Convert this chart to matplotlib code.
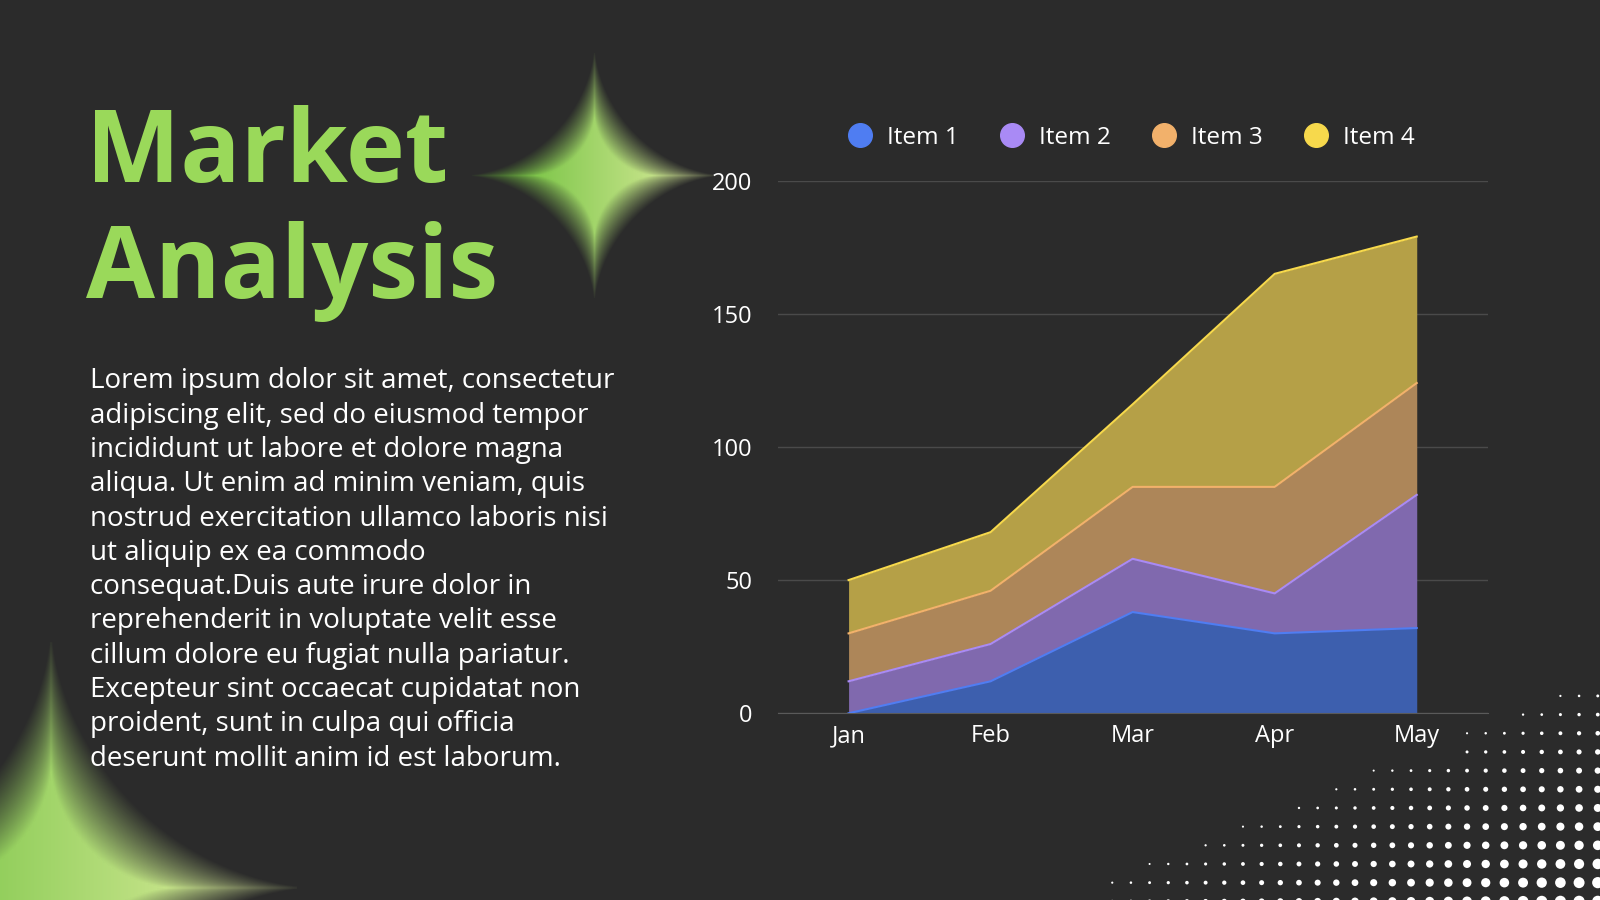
import numpy as np
import matplotlib.pyplot as plt
from matplotlib.colors import to_rgb

months = ['Jan', 'Feb', 'Mar', 'Apr', 'May']
item1 = [0, 12, 38, 30, 32]
item2 = [12, 14, 20, 15, 50]
item3 = [18, 20, 27, 40, 42]
item4 = [20, 22, 31, 80, 55]
labels = ['Item 1', 'Item 2', 'Item 3', 'Item 4']
colors = ['#4f7df2', '#a98af5', '#f2b16b', '#f7d94c']
fills = ['#3d5fae', '#8069ae', '#ad8659', '#b5a047']

BG = '#2b2b2b'
FONT = 'Open Sans'
W, H = 1568.0, 882.0

fig = plt.figure(figsize=(16, 9), dpi=100, facecolor=BG)

# background layer for decorations
bg = fig.add_axes([0, 0, 1, 1])
bg.set_xlim(0, W)
bg.set_ylim(H, 0)
bg.axis('off')
bg.set_facecolor(BG)


def sparkle(cx, cy, r, blur, c1, c2):
    n = 400
    xs = np.linspace(cx - r * 1.3, cx + r * 1.3, n)
    ys = np.linspace(cy - r * 1.3, cy + r * 1.3, n)
    X, Y = np.meshgrid(xs, ys)
    u = np.abs(X - cx) / r
    v = np.abs(Y - cy) / r
    # 4 point star, soft edge
    d = np.power(u, 0.6) + np.power(v, 0.6)
    a = np.clip((1.0 - d) / blur + 0.5, 0, 1)
    t = np.clip((X - (cx - r)) / (2 * r), 0, 1)[..., None]
    rgb = np.array(to_rgb(c1)) * (1 - t) + np.array(to_rgb(c2)) * t
    img = np.dstack([rgb, a])
    bg.imshow(img, extent=(xs[0], xs[-1], ys[-1], ys[0]), zorder=1,
              interpolation='bilinear')


sparkle(582, 172, 92, 0.45, '#6cbf3a', '#d8eb9a')
sparkle(50, 870, 185, 0.45, '#6cbf3a', '#d8eb9a')

# dotted halftone bottom right
step = 18.3
for gx in np.arange(1090, W + 10, step):
    for gy in np.arange(682, H + 10, step):
        s = (gx - 1090) / (W - 1090) + (gy - 682) / (H - 682) - 1.0
        if s < -0.1 or (gy < 740 and gx < 1430):
            continue
        rad = 1.0 + 4.5 * np.clip((s + 0.1) / 1.0, 0, 1)
        bg.add_patch(plt.Circle((gx, gy), rad, color='white', lw=0, zorder=1))

# title
fig.text(84 / W, 1 - 152 / H, 'Market', fontsize=72, fontweight='bold',
         family=FONT, color='#9ad95a', va='center', ha='left')
fig.text(84 / W, 1 - 266 / H, 'Analysis', fontsize=72, fontweight='bold',
         family=FONT, color='#9ad95a', va='center', ha='left')

body = ('Lorem ipsum dolor sit amet, consectetur\nadipiscing elit, sed do eiusmod tempor\n'
        'incididunt ut labore et dolore magna\naliqua. Ut enim ad minim veniam, quis\n'
        'nostrud exercitation ullamco laboris nisi\nut aliquip ex ea commodo\n'
        'consequat.Duis aute irure dolor in\nreprehenderit in voluptate velit esse\n'
        'cillum dolore eu fugiat nulla pariatur.\nExcepteur sint occaecat cupidatat non\n'
        'proident, sunt in culpa qui officia\ndeserunt mollit anim id est laborum.')
fig.text(88 / W, 1 - 360 / H, body, fontsize=20, family=FONT, color='white',
         va='top', ha='left', linespacing=1.3)

# chart
ax = fig.add_axes([762 / W, 1 - 699 / H, 696 / W, (699 - 177) / H])
ax.set_facecolor('none')
x = np.arange(len(months))
series = [item1, item2, item3, item4]
base = np.zeros(len(months))
for vals, lc, fc in zip(series, colors, fills):
    top = base + np.array(vals)
    ax.fill_between(x, base, top, color=fc, lw=0, zorder=2)
    ax.plot(x, top, color=lc, lw=1.5, zorder=3)
    base = top

ax.set_xlim(-0.5, 4.5)
ax.set_ylim(0, 200)
ax.set_yticks([0, 50, 100, 150, 200])
ax.set_xticks(x)
ax.set_xticklabels(months)
ax.grid(axis='y', color='#4a4a4a', lw=1, zorder=0)
for sp in ['top', 'right', 'left']:
    ax.spines[sp].set_visible(False)
ax.spines['bottom'].set_color('#5a5a5a')
ax.tick_params(length=0, colors='white', labelsize=17, pad=8)
for lab in ax.get_xticklabels() + ax.get_yticklabels():
    lab.set_family(FONT)
ax.tick_params(axis='y', pad=18)

# legend
handles = [plt.Line2D([], [], marker='o', ls='', markersize=17, color=c) for c in colors]
leg = fig.legend(handles, labels, loc='center', bbox_to_anchor=(1103 / W, 1 - 135 / H),
                 ncol=4, frameon=False, handletextpad=0.1,
                 columnspacing=1.2, prop={'family': FONT, 'size': 17.5})
for t in leg.get_texts():
    t.set_color('white')

fig.savefig('out.png', dpi=100, facecolor=BG)
